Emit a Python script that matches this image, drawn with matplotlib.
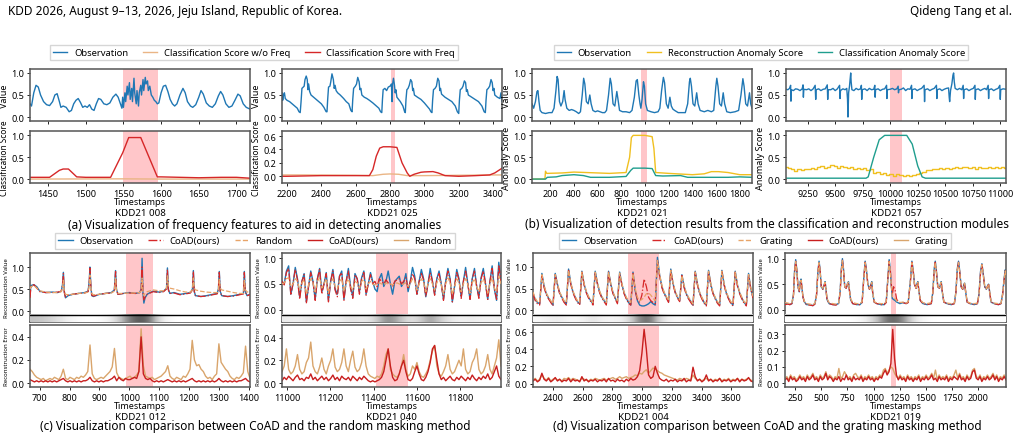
import numpy as np
import matplotlib
matplotlib.use("Agg")
import matplotlib.pyplot as plt
from matplotlib.lines import Line2D

plt.rcParams['font.family'] = ['Noto Sans', 'DejaVu Sans']

W, H = 1020, 439

BLUE = '#1f77b4'
RED = '#d62728'
TAN_LIGHT = '#eab585'
GOLD = '#f0c020'
TEAL = '#1f9e8e'
COAD = '#c81e1e'
RAND = '#d9a56c'
RAND_DASH = '#e8a468'
SPAN = '#ffb3b8'

# ---------------- (a) KDD21 008 ----------------
a1_span = (1549, 1596)
a1_obs = np.array([
    [1426, 0.30], [1428, 0.25], [1431, 0.55], [1434, 0.72], [1437, 0.68], [1440, 0.50],
    [1444, 0.35], [1448, 0.28], [1452, 0.26], [1456, 0.35], [1459, 0.50], [1462, 0.53],
    [1465, 0.35], [1467, 0.22], [1470, 0.25], [1474, 0.22], [1478, 0.12], [1481, 0.15],
    [1484, 0.30], [1487, 0.38], [1490, 0.42], [1493, 0.33], [1496, 0.22], [1499, 0.25],
    [1502, 0.22], [1505, 0.28], [1508, 0.18], [1511, 0.15], [1514, 0.30], [1517, 0.42],
    [1520, 0.40], [1524, 0.30], [1528, 0.28], [1532, 0.32], [1536, 0.45], [1540, 0.52],
    [1543, 0.45], [1546, 0.30], [1548, 0.20], [1549, 0.45], [1550, 0.22], [1552, 0.55],
    [1553, 0.35], [1555, 0.70], [1556, 0.50], [1558, 0.78], [1559, 0.40], [1561, 0.65],
    [1562, 0.35], [1564, 0.88], [1565, 0.55], [1567, 0.30], [1568, 0.60], [1570, 0.25],
    [1571, 0.55], [1573, 0.72], [1574, 0.50], [1576, 0.85], [1577, 0.60], [1579, 0.90],
    [1580, 0.75], [1582, 0.82], [1583, 0.60], [1585, 0.70], [1587, 0.50], [1589, 0.45],
    [1591, 0.38], [1593, 0.35], [1595, 0.30], [1597, 0.32], [1600, 0.55], [1603, 0.70],
    [1606, 0.72], [1609, 0.58], [1612, 0.40], [1615, 0.30], [1618, 0.25], [1621, 0.30],
    [1625, 0.50], [1629, 0.65], [1632, 0.55], [1635, 0.35], [1639, 0.25], [1642, 0.22],
    [1646, 0.28], [1650, 0.45], [1653, 0.60], [1656, 0.52], [1660, 0.32], [1664, 0.25],
    [1668, 0.22], [1672, 0.30], [1676, 0.48], [1679, 0.58], [1682, 0.50], [1686, 0.30],
    [1690, 0.22], [1694, 0.25], [1698, 0.38], [1702, 0.52], [1705, 0.48], [1709, 0.30],
    [1713, 0.22], [1718, 0.18]])
a1_with = np.array([
    [1426, 0.04], [1452, 0.04], [1465, 0.20], [1470, 0.23], [1477, 0.23], [1488, 0.05],
    [1500, 0.04], [1533, 0.04], [1549, 0.60], [1557, 0.95], [1573, 0.95], [1595, 0.05],
    [1600, 0.05], [1650, 0.03], [1680, 0.04], [1700, 0.04], [1718, 0.02]])
a1_without = np.array([[1426, 0.0], [1550, 0.005], [1600, 0.0], [1718, 0.0]])

# ---------------- (a) KDD21 025 ----------------
a2_span = (2805, 2830)
a2_obs = np.array([
    [2171, 0.55], [2175, 0.38], [2180, 0.50], [2185, 0.55], [2190, 0.42], [2200, 0.38],
    [2215, 0.35], [2230, 0.30], [2245, 0.25], [2260, 0.20], [2270, 0.12], [2277, 0.10],
    [2282, 0.35], [2287, 0.65], [2295, 0.68], [2300, 0.70], [2305, 0.85], [2312, 0.93],
    [2318, 0.85], [2322, 0.62], [2326, 0.75], [2332, 0.58], [2340, 0.50], [2355, 0.45],
    [2370, 0.40], [2385, 0.35], [2400, 0.30], [2415, 0.22], [2428, 0.12], [2433, 0.12],
    [2437, 0.40], [2442, 0.68], [2450, 0.70], [2455, 0.80], [2462, 0.98], [2470, 0.85],
    [2475, 0.65], [2480, 0.72], [2486, 0.60], [2495, 0.55], [2510, 0.50], [2530, 0.42],
    [2545, 0.35], [2560, 0.30], [2572, 0.15], [2579, 0.12], [2583, 0.40], [2588, 0.65],
    [2598, 0.70], [2605, 0.75], [2612, 0.90], [2620, 0.80], [2625, 0.62], [2630, 0.65],
    [2636, 0.50], [2650, 0.45], [2665, 0.42], [2680, 0.38], [2700, 0.32], [2720, 0.25],
    [2735, 0.20], [2745, 0.12], [2752, 0.10], [2756, 0.40], [2760, 0.62], [2770, 0.65],
    [2780, 0.60], [2790, 0.68], [2800, 0.70], [2808, 0.75], [2812, 0.35], [2815, 0.75],
    [2820, 0.88], [2826, 0.72], [2830, 0.55], [2834, 0.62], [2840, 0.45], [2860, 0.35],
    [2875, 0.25], [2885, 0.12], [2889, 0.10], [2893, 0.40], [2898, 0.62], [2905, 0.65],
    [2912, 0.72], [2920, 0.85], [2927, 0.80], [2932, 0.60], [2936, 0.65], [2942, 0.50],
    [2960, 0.45], [2980, 0.40], [3000, 0.32], [3015, 0.25], [3030, 0.18], [3038, 0.12],
    [3044, 0.10], [3048, 0.38], [3053, 0.62], [3062, 0.65], [3070, 0.70], [3078, 0.88],
    [3085, 0.82], [3090, 0.60], [3094, 0.65], [3100, 0.52], [3120, 0.45], [3140, 0.40],
    [3160, 0.35], [3180, 0.25], [3192, 0.12], [3200, 0.08], [3204, 0.38], [3209, 0.62],
    [3218, 0.65], [3225, 0.70], [3233, 0.82], [3240, 0.78], [3245, 0.58], [3250, 0.62],
    [3256, 0.50], [3275, 0.45], [3295, 0.40], [3315, 0.35], [3335, 0.25], [3348, 0.12],
    [3355, 0.10], [3359, 0.38], [3364, 0.62], [3372, 0.65], [3380, 0.70], [3388, 0.85],
    [3395, 0.78], [3400, 0.60], [3405, 0.65], [3410, 0.50], [3425, 0.45], [3440, 0.42],
    [3446, 0.55], [3452, 0.35]])
a2_with = np.array([
    [2171, 0.0], [2200, 0.0], [2400, 0.01], [2600, 0.01], [2680, 0.01], [2700, 0.10],
    [2720, 0.30], [2740, 0.42], [2760, 0.44], [2800, 0.44], [2840, 0.43], [2870, 0.20],
    [2900, 0.05], [2915, 0.0], [2940, 0.03], [2980, 0.06], [3000, 0.065], [3050, 0.07],
    [3080, 0.05], [3120, 0.01], [3200, 0.0], [3300, 0.01], [3380, 0.02], [3410, 0.05],
    [3440, 0.10], [3452, 0.12]])
a2_without = np.array([
    [2171, 0.02], [2300, 0.02], [2600, 0.015], [2700, 0.01], [2760, 0.03], [2800, 0.035],
    [2850, 0.03], [2900, 0.01], [3000, 0.01], [3200, 0.015], [3400, 0.02], [3452, 0.02]])

# ---------------- (b) KDD21 021 ----------------
b1_span = (968, 1016)
b1_obs = np.array([
    [46, 0.30], [60, 0.20], [75, 0.35], [88, 0.58], [96, 0.60], [105, 0.35], [115, 0.15],
    [130, 0.10], [160, 0.08], [190, 0.10], [215, 0.10], [232, 0.20], [248, 0.60], [258, 0.92],
    [266, 0.85], [278, 0.35], [290, 0.25], [305, 0.35], [317, 0.60], [325, 0.40], [340, 0.20],
    [360, 0.15], [380, 0.17], [400, 0.15], [420, 0.12], [440, 0.08], [455, 0.12], [470, 0.50],
    [482, 0.88], [492, 0.75], [505, 0.35], [520, 0.30], [534, 0.50], [545, 0.30], [560, 0.15],
    [580, 0.12], [600, 0.14], [620, 0.12], [640, 0.10], [660, 0.10], [675, 0.15], [692, 0.50],
    [706, 0.88], [716, 0.75], [730, 0.30], [745, 0.25], [762, 0.58], [772, 0.40], [785, 0.15],
    [810, 0.12], [840, 0.12], [870, 0.10], [890, 0.15], [910, 0.45], [925, 0.82], [935, 0.85],
    [948, 0.50], [958, 0.30], [965, 0.20], [975, 0.40], [987, 0.80], [995, 0.70], [1005, 0.30],
    [1020, 0.15], [1050, 0.12], [1080, 0.10], [1110, 0.12], [1125, 0.20], [1140, 0.60],
    [1155, 0.90], [1165, 0.78], [1180, 0.30], [1195, 0.20], [1210, 0.45], [1222, 0.25],
    [1235, 0.18], [1250, 0.15], [1280, 0.10], [1310, 0.10], [1340, 0.10], [1360, 0.30],
    [1375, 0.80], [1382, 0.88], [1392, 0.70], [1405, 0.30], [1420, 0.25], [1436, 0.55],
    [1448, 0.30], [1465, 0.15], [1500, 0.12], [1530, 0.15], [1560, 0.12], [1580, 0.15],
    [1598, 0.70], [1606, 0.88], [1616, 0.70], [1630, 0.30], [1645, 0.25], [1660, 0.55],
    [1672, 0.30], [1690, 0.12], [1720, 0.10], [1760, 0.12], [1790, 0.15], [1810, 0.50],
    [1826, 0.87], [1836, 0.70], [1850, 0.30], [1865, 0.25], [1882, 0.55], [1892, 0.30],
    [1903, 0.20]])
b1_recon = np.array([
    [46, 0.0], [155, 0.0], [160, 0.18], [170, 0.13], [300, 0.14], [400, 0.16], [500, 0.15],
    [700, 0.13], [840, 0.15], [870, 0.50], [885, 0.95], [900, 1.0], [1000, 1.0], [1060, 0.97],
    [1075, 0.70], [1090, 0.15], [1200, 0.13], [1400, 0.10], [1500, 0.12], [1560, 0.17],
    [1620, 0.17], [1700, 0.15], [1800, 0.10], [1903, 0.10]])
b1_cls = np.array([
    [46, 0.0], [160, 0.0], [175, 0.04], [250, 0.05], [300, 0.08], [400, 0.10], [480, 0.08],
    [540, 0.04], [700, 0.04], [840, 0.06], [880, 0.20], [900, 0.25], [1000, 0.25],
    [1060, 0.24], [1090, 0.08], [1150, 0.07], [1300, 0.08], [1360, 0.04], [1500, 0.04],
    [1700, 0.04], [1800, 0.05], [1903, 0.04]])

# ---------------- (b) KDD21 057 ----------------
b2_span = (10000, 10106)
b2_obs = np.array([
    [9053, 0.63], [9070, 0.62], [9085, 0.65], [9095, 0.72], [9098, 0.36], [9102, 0.62],
    [9120, 0.60], [9140, 0.64], [9160, 0.63], [9180, 0.60], [9200, 0.64], [9208, 0.73],
    [9211, 0.45], [9215, 0.63], [9240, 0.62], [9260, 0.64], [9280, 0.60], [9300, 0.64],
    [9318, 0.72], [9323, 0.40], [9327, 0.62], [9350, 0.64], [9370, 0.60], [9390, 0.63],
    [9410, 0.64], [9428, 0.73], [9432, 0.40], [9436, 0.62], [9460, 0.62], [9480, 0.65],
    [9500, 0.60], [9520, 0.64], [9540, 0.72], [9544, 0.42], [9548, 0.60], [9570, 0.64],
    [9590, 0.62], [9605, 0.65], [9612, 0.40], [9616, 0.0], [9622, 0.55], [9630, 0.70],
    [9638, 0.90], [9641, 1.0], [9645, 0.80], [9652, 0.62], [9670, 0.60], [9690, 0.65],
    [9710, 0.62], [9730, 0.64], [9738, 0.72], [9741, 0.40], [9745, 0.62], [9770, 0.64],
    [9790, 0.60], [9810, 0.65], [9830, 0.62], [9850, 0.63], [9860, 0.72], [9863, 0.45],
    [9867, 0.62], [9890, 0.64], [9910, 0.60], [9930, 0.63], [9950, 0.64], [9967, 0.72],
    [9970, 0.42], [9974, 0.62], [10000, 0.63], [10020, 0.65], [10040, 0.62], [10060, 0.64],
    [10072, 0.70], [10075, 0.55], [10079, 0.62], [10100, 0.63], [10120, 0.66], [10140, 0.60],
    [10160, 0.64], [10180, 0.63], [10194, 0.72], [10197, 0.42], [10201, 0.62], [10225, 0.64],
    [10245, 0.60], [10265, 0.63], [10285, 0.65], [10308, 0.72], [10312, 0.35], [10316, 0.62],
    [10340, 0.64], [10360, 0.60], [10380, 0.63], [10400, 0.65], [10420, 0.72], [10424, 0.42],
    [10428, 0.62], [10450, 0.64], [10470, 0.60], [10490, 0.63], [10510, 0.65], [10530, 0.66],
    [10536, 0.45], [10540, 0.35], [10548, 0.60], [10560, 0.75], [10570, 0.95], [10576, 1.0],
    [10582, 0.80], [10590, 0.65], [10610, 0.62], [10630, 0.65], [10650, 0.62], [10663, 0.72],
    [10667, 0.42], [10671, 0.62], [10695, 0.64], [10715, 0.60], [10735, 0.63], [10755, 0.65],
    [10770, 0.72], [10773, 0.40], [10777, 0.62], [10800, 0.64], [10820, 0.60], [10840, 0.63],
    [10860, 0.65], [10875, 0.62], [10890, 0.72], [10894, 0.42], [10898, 0.62], [10920, 0.64],
    [10940, 0.60], [10960, 0.63], [10980, 0.65], [10996, 0.72], [11000, 0.40], [11004, 0.62],
    [11025, 0.64], [11052, 0.63]])
b2_cls = np.array([
    [9053, 0.02], [9780, 0.02], [9800, 0.05], [9850, 0.50], [9900, 0.90], [9950, 1.0],
    [10150, 1.0], [10200, 0.80], [10250, 0.30], [10290, 0.05], [10320, 0.02], [11052, 0.02]])
b2_recon_x0, b2_recon_x1 = 9053, 11052
b2_recon = [0.28, 0.25, 0.22, 0.18, 0.22, 0.20, 0.24, 0.22, 0.26, 0.23,
            0.27, 0.30, 0.25, 0.28, 0.32, 0.30, 0.26, 0.30, 0.28, 0.26,
            0.27, 0.24, 0.26, 0.22, 0.25, 0.20, 0.22, 0.15, 0.16, 0.12,
            0.14, 0.10, 0.12, 0.08, 0.12, 0.10, 0.06, 0.10, 0.08, 0.10,
            0.12, 0.14, 0.17, 0.20, 0.20, 0.24, 0.22, 0.25, 0.22, 0.26,
            0.24, 0.26, 0.28, 0.25, 0.27, 0.28, 0.25, 0.27, 0.24, 0.28,
            0.26, 0.25, 0.27, 0.25, 0.28, 0.25, 0.27, 0.26]

# ---------------- (c) KDD21 012 ----------------
c1_span = (988, 1080)
c1_x = [667, 670, 680, 690, 700, 720, 740, 760, 772, 776, 779, 782, 786, 795, 810, 830, 850,
        862, 866, 868, 871, 874, 880, 900, 920, 940, 950, 954, 957, 962, 980, 1000, 1020,
        1035, 1040, 1043, 1046, 1049, 1053, 1060, 1070, 1080, 1100, 1115, 1125, 1128, 1131,
        1136, 1150, 1170, 1190, 1205, 1212, 1215, 1218, 1222, 1240, 1260, 1280, 1295, 1299,
        1302, 1305, 1310, 1330, 1350, 1370, 1383, 1386, 1389, 1395, 1405]
c1_obs = [0.35, 0.58, 0.60, 0.55, 0.45, 0.42, 0.43, 0.42, 0.45, 0.60,
          0.88, 0.45, 0.30, 0.35, 0.38, 0.40, 0.42, 0.45, 0.70, 1.00,
          0.60, 0.35, 0.33, 0.38, 0.40, 0.42, 0.48, 0.92, 0.50, 0.38,
          0.40, 0.42, 0.40, 0.42, 0.50, 1.20, 0.40, 0.18, 0.30, 0.38,
          0.42, 0.45, 0.43, 0.45, 0.52, 0.98, 0.50, 0.40, 0.42, 0.38,
          0.40, 0.42, 0.50, 0.92, 0.45, 0.35, 0.33, 0.35, 0.38, 0.40,
          0.50, 0.90, 0.45, 0.35, 0.33, 0.35, 0.38, 0.40, 0.90, 0.45,
          0.35, 0.38]
c1_coad = [0.30, 0.55, 0.60, 0.52, 0.44, 0.42, 0.42, 0.43, 0.45, 0.58,
           0.85, 0.42, 0.32, 0.36, 0.38, 0.40, 0.41, 0.44, 0.68, 0.98,
           0.58, 0.36, 0.34, 0.38, 0.40, 0.41, 0.47, 0.90, 0.48, 0.38,
           0.40, 0.41, 0.40, 0.42, 0.48, 1.00, 0.42, 0.25, 0.32, 0.38,
           0.41, 0.44, 0.42, 0.44, 0.50, 0.95, 0.48, 0.40, 0.41, 0.37,
           0.39, 0.41, 0.48, 0.90, 0.44, 0.35, 0.33, 0.34, 0.37, 0.39,
           0.48, 0.88, 0.44, 0.35, 0.33, 0.34, 0.37, 0.39, 0.88, 0.44,
           0.35, 0.37]
c1_rand = [0.50, 0.55, 0.58, 0.52, 0.46, 0.43, 0.42, 0.42, 0.44, 0.52,
           0.70, 0.45, 0.38, 0.37, 0.38, 0.40, 0.41, 0.43, 0.58, 0.82,
           0.55, 0.40, 0.37, 0.38, 0.40, 0.41, 0.45, 0.75, 0.48, 0.40,
           0.40, 0.41, 0.41, 0.42, 0.46, 0.75, 0.45, 0.35, 0.40, 0.44,
           0.46, 0.48, 0.46, 0.46, 0.52, 0.80, 0.58, 0.52, 0.50, 0.46,
           0.43, 0.43, 0.48, 0.75, 0.52, 0.48, 0.45, 0.43, 0.42, 0.42,
           0.48, 0.72, 0.52, 0.48, 0.45, 0.42, 0.40, 0.40, 0.70, 0.48,
           0.44, 0.40]
c1_strip = [0.35, 0.28, 0.15, 0.03, 0.0, 0.05, 0.30, 0.70, 0.75, 0.15, 0.0, 0.0, 0.0, 0.0, 0.0, 0.0]
c1_err_rand = [0.12, 0.10, 0.07, 0.05, 0.04, 0.03, 0.04, 0.02, 0.03, 0.04,
               0.03, 0.05, 0.04, 0.03, 0.06, 0.12, 0.04, 0.03, 0.05, 0.04,
               0.03, 0.05, 0.04, 0.06, 0.05, 0.07, 0.10, 0.33, 0.08, 0.04,
               0.03, 0.04, 0.05, 0.04, 0.06, 0.08, 0.10, 0.14, 0.30, 0.09,
               0.05, 0.04, 0.03, 0.04, 0.05, 0.06, 0.04, 0.05, 0.07, 0.10,
               0.47, 0.15, 0.06, 0.05, 0.04, 0.05, 0.03, 0.04, 0.05, 0.06,
               0.08, 0.10, 0.15, 0.06, 0.04, 0.03, 0.05, 0.04, 0.03, 0.06,
               0.05, 0.08, 0.12, 0.37, 0.20, 0.15, 0.16, 0.12, 0.10, 0.06,
               0.04, 0.05, 0.03, 0.06, 0.08, 0.34, 0.18, 0.15, 0.12, 0.10,
               0.06, 0.04, 0.03, 0.05, 0.04, 0.06, 0.09, 0.32, 0.10, 0.04]
c1_err_coad = [0.03, 0.02, 0.01, 0.02, 0.01, 0.02, 0.01, 0.02, 0.01, 0.02,
               0.01, 0.02, 0.01, 0.02, 0.03, 0.04, 0.02, 0.01, 0.02, 0.01,
               0.02, 0.01, 0.02, 0.01, 0.02, 0.02, 0.03, 0.05, 0.02, 0.01,
               0.02, 0.01, 0.02, 0.01, 0.02, 0.02, 0.03, 0.04, 0.06, 0.02,
               0.05, 0.03, 0.02, 0.04, 0.03, 0.03, 0.04, 0.05, 0.04, 0.10,
               0.40, 0.08, 0.04, 0.03, 0.04, 0.02, 0.01, 0.02, 0.01, 0.02,
               0.01, 0.02, 0.03, 0.02, 0.01, 0.02, 0.01, 0.02, 0.01, 0.02,
               0.01, 0.02, 0.03, 0.04, 0.02, 0.01, 0.02, 0.01, 0.02, 0.01,
               0.02, 0.01, 0.02, 0.01, 0.02, 0.04, 0.02, 0.01, 0.02, 0.01,
               0.02, 0.01, 0.02, 0.01, 0.02, 0.02, 0.03, 0.04, 0.02, 0.01]

# ---------------- (c) KDD21 040 ----------------
c2_span = (11412, 11558)
c2_obs = [0.55, 0.50, 0.75, 0.85, 0.30, 0.50, 0.82, 0.60, 0.25, 0.55,
          0.70, 0.15, 0.45, 0.75, 0.55, 0.20, 0.60, 0.80, 0.35, 0.50,
          0.72, 0.18, 0.55, 0.78, 0.40, 0.30, 0.65, 0.75, 0.20, 0.55,
          0.80, 0.45, 0.25, 0.70, 0.60, 0.35, 0.62, 0.75, 0.30, 0.50,
          0.72, 0.55, 0.40, 0.35, 0.60, 0.70, 0.45, 0.55, 0.75, 0.50,
          0.30, 0.55, 0.60, 0.65, 0.45, 0.52, 0.70, 0.35, 0.55, 0.82,
          0.65, 0.30, 0.55, 0.78, 0.60, 0.25, 0.50, 0.80, 0.55, 0.30,
          0.60, 0.75, 0.50, 0.20, 0.55, 0.80, 0.60, 0.15, 0.45, 0.78,
          0.60, 0.25, 0.55, 0.82, 0.50, 0.20, 0.60, 0.80, 0.45, 0.25,
          0.62, 0.80, 0.50, 0.20, 0.55, 0.85, 0.40, 0.18, 0.92, 0.55]
c2_coad = [0.55, 0.48, 0.72, 0.80, 0.28, 0.52, 0.78, 0.58, 0.20, 0.55,
           0.68, 0.12, 0.45, 0.72, 0.55, 0.18, 0.60, 0.78, 0.30, 0.50,
           0.70, 0.15, 0.55, 0.75, 0.38, 0.25, 0.65, 0.72, 0.18, 0.55,
           0.75, 0.40, 0.22, 0.68, 0.60, 0.30, 0.60, 0.72, 0.28, 0.50,
           0.68, 0.50, 0.55, 0.45, 0.60, 0.55, 0.50, 0.58, 0.52, 0.50,
           0.45, 0.55, 0.58, 0.60, 0.50, 0.55, 0.62, 0.40, 0.55, 0.70,
           0.60, 0.30, 0.55, 0.70, 0.58, 0.25, 0.50, 0.72, 0.55, 0.28,
           0.60, 0.70, 0.50, 0.18, 0.55, 0.75, 0.58, 0.15, 0.45, 0.72,
           0.58, 0.22, 0.55, 0.75, 0.50, 0.20, 0.60, 0.75, 0.45, 0.22,
           0.60, 0.75, 0.50, 0.20, 0.55, 0.80, 0.40, 0.20, 0.85, 0.55]
c2_rand = [0.50, 0.52, 0.60, 0.62, 0.45, 0.50, 0.60, 0.55, 0.38, 0.52,
           0.58, 0.30, 0.48, 0.60, 0.52, 0.35, 0.55, 0.62, 0.42, 0.50,
           0.60, 0.32, 0.52, 0.60, 0.45, 0.40, 0.55, 0.60, 0.35, 0.52,
           0.60, 0.45, 0.38, 0.55, 0.52, 0.42, 0.55, 0.58, 0.40, 0.50,
           0.55, 0.50, 0.48, 0.50, 0.52, 0.50, 0.48, 0.52, 0.50, 0.50,
           0.48, 0.50, 0.52, 0.50, 0.48, 0.50, 0.52, 0.45, 0.50, 0.60,
           0.55, 0.38, 0.50, 0.60, 0.52, 0.35, 0.50, 0.60, 0.50, 0.38,
           0.52, 0.60, 0.48, 0.30, 0.50, 0.62, 0.52, 0.30, 0.45, 0.60,
           0.52, 0.35, 0.50, 0.60, 0.48, 0.32, 0.52, 0.60, 0.45, 0.35,
           0.52, 0.60, 0.48, 0.32, 0.50, 0.62, 0.42, 0.35, 0.65, 0.50]
c2_strip = [0.15, 0.12, 0.18, 0.15, 0.10, 0.15, 0.20, 0.15, 0.25, 0.55,
            0.45, 0.20, 0.25, 0.50, 0.30, 0.15, 0.12, 0.15, 0.10, 0.12]
c2_err_rand = [0.10, 0.15, 0.30, 0.12, 0.08, 0.10, 0.15, 0.25, 0.12, 0.08,
               0.10, 0.18, 0.22, 0.36, 0.15, 0.10, 0.08, 0.14, 0.22, 0.12,
               0.08, 0.15, 0.20, 0.30, 0.14, 0.10, 0.12, 0.18, 0.30, 0.15,
               0.10, 0.20, 0.28, 0.14, 0.10, 0.12, 0.18, 0.30, 0.15, 0.08,
               0.06, 0.05, 0.04, 0.06, 0.05, 0.08, 0.15, 0.25, 0.30, 0.12,
               0.08, 0.06, 0.05, 0.08, 0.15, 0.25, 0.12, 0.06, 0.08, 0.15,
               0.12, 0.18, 0.10, 0.06, 0.05, 0.08, 0.12, 0.20, 0.28, 0.33,
               0.15, 0.08, 0.06, 0.10, 0.15, 0.25, 0.12, 0.08, 0.10, 0.15,
               0.20, 0.15, 0.30, 0.12, 0.08, 0.10, 0.18, 0.22, 0.30, 0.12,
               0.08, 0.10, 0.15, 0.25, 0.12, 0.08, 0.15, 0.22, 0.38, 0.15]
c2_err_coad = [0.02, 0.05, 0.03, 0.06, 0.04, 0.02, 0.05, 0.07, 0.03, 0.04,
               0.02, 0.05, 0.04, 0.08, 0.03, 0.05, 0.02, 0.04, 0.06, 0.03,
               0.05, 0.02, 0.04, 0.07, 0.03, 0.05, 0.02, 0.06, 0.04, 0.03,
               0.05, 0.02, 0.06, 0.04, 0.02, 0.05, 0.03, 0.06, 0.04, 0.02,
               0.01, 0.02, 0.01, 0.02, 0.03, 0.05, 0.10, 0.20, 0.30, 0.15,
               0.05, 0.02, 0.03, 0.08, 0.15, 0.20, 0.10, 0.03, 0.02, 0.04,
               0.10, 0.15, 0.08, 0.03, 0.02, 0.05, 0.10, 0.18, 0.30, 0.33,
               0.20, 0.08, 0.03, 0.05, 0.02, 0.04, 0.06, 0.03, 0.02, 0.05,
               0.03, 0.06, 0.04, 0.02, 0.05, 0.03, 0.07, 0.04, 0.02, 0.05,
               0.03, 0.06, 0.04, 0.08, 0.03, 0.05, 0.10, 0.15, 0.06, 0.03]

# ---------------- (d) KDD21 004 ----------------
d1_span = (2904, 3112)
d1_obs = [0.40, 0.25, 0.18, 0.15, 0.85, 0.55, 0.38, 0.28, 0.20, 0.12,
          0.85, 0.60, 0.40, 0.30, 0.20, 0.15, 0.95, 0.62, 0.42, 0.30,
          0.20, 0.15, 0.90, 0.60, 0.42, 0.30, 0.22, 0.15, 0.90, 0.62,
          0.42, 0.30, 0.22, 0.15, 0.90, 0.60, 0.40, 0.28, 0.18, 0.88,
          0.60, 0.40, 0.28, 0.18, 0.12, 0.88, 0.45, 0.22, 0.12, 0.10,
          0.10, 0.12, 0.15, 0.20, 0.15, 0.12, 1.22, 0.80, 0.55, 0.40,
          0.30, 0.20, 0.95, 0.62, 0.42, 0.30, 0.22, 0.82, 0.55, 0.38,
          0.28, 0.20, 0.12, 0.90, 0.60, 0.40, 0.28, 0.18, 0.12, 0.92,
          0.60, 0.40, 0.28, 0.18, 0.12, 0.92, 0.60, 0.40, 0.28, 0.18,
          0.12, 0.90, 0.58, 0.40, 0.28, 0.18, 0.12, 0.85, 0.50, 0.30]
d1_coad = [0.38, 0.22, 0.15, 0.12, 0.80, 0.52, 0.36, 0.26, 0.18, 0.10,
           0.82, 0.58, 0.38, 0.28, 0.18, 0.12, 0.92, 0.60, 0.40, 0.28,
           0.18, 0.12, 0.88, 0.58, 0.40, 0.28, 0.20, 0.12, 0.88, 0.60,
           0.40, 0.28, 0.20, 0.12, 0.88, 0.58, 0.38, 0.26, 0.15, 0.85,
           0.58, 0.38, 0.26, 0.16, 0.12, 0.85, 0.45, 0.25, 0.18, 0.35,
           0.72, 0.55, 0.30, 0.22, 0.18, 0.15, 1.15, 0.78, 0.52, 0.38,
           0.28, 0.18, 0.92, 0.60, 0.40, 0.28, 0.20, 0.80, 0.52, 0.36,
           0.26, 0.18, 0.10, 0.88, 0.58, 0.38, 0.26, 0.16, 0.10, 0.90,
           0.58, 0.38, 0.26, 0.16, 0.10, 0.90, 0.58, 0.38, 0.26, 0.16,
           0.10, 0.88, 0.56, 0.38, 0.26, 0.16, 0.10, 0.82, 0.48, 0.28]
d1_grat = [0.42, 0.28, 0.20, 0.18, 0.82, 0.58, 0.40, 0.30, 0.22, 0.15,
           0.82, 0.62, 0.42, 0.32, 0.22, 0.18, 0.92, 0.64, 0.44, 0.32,
           0.22, 0.18, 0.88, 0.62, 0.44, 0.32, 0.24, 0.18, 0.88, 0.64,
           0.44, 0.32, 0.24, 0.18, 0.88, 0.62, 0.42, 0.30, 0.22, 0.86,
           0.62, 0.42, 0.30, 0.22, 0.18, 0.85, 0.50, 0.30, 0.22, 0.25,
           0.30, 0.38, 0.40, 0.35, 0.28, 0.22, 1.15, 0.82, 0.58, 0.42,
           0.32, 0.22, 0.92, 0.64, 0.44, 0.32, 0.24, 0.80, 0.58, 0.40,
           0.30, 0.22, 0.15, 0.88, 0.62, 0.42, 0.30, 0.20, 0.15, 0.90,
           0.62, 0.42, 0.30, 0.20, 0.15, 0.90, 0.62, 0.42, 0.30, 0.20,
           0.15, 0.88, 0.60, 0.42, 0.30, 0.20, 0.15, 0.82, 0.52, 0.32]
d1_strip = [0.05, 0.12, 0.15, 0.05, 0.10, 0.20, 0.08, 0.10, 0.15, 0.50,
            0.70, 0.25, 0.08, 0.05, 0.12, 0.15, 0.05, 0.08, 0.05, 0.05]
d1_err_coad = [0.03, 0.05, 0.02, 0.04, 0.12, 0.05, 0.03, 0.06, 0.02, 0.04,
               0.07, 0.03, 0.05, 0.02, 0.04, 0.03, 0.06, 0.02, 0.05, 0.03,
               0.04, 0.02, 0.08, 0.03, 0.05, 0.02, 0.04, 0.03, 0.05, 0.02,
               0.04, 0.03, 0.05, 0.02, 0.06, 0.03, 0.04, 0.02, 0.05, 0.03,
               0.04, 0.02, 0.05, 0.03, 0.06, 0.04, 0.05, 0.08, 0.15, 0.35,
               0.63, 0.40, 0.10, 0.06, 0.08, 0.20, 0.12, 0.06, 0.04, 0.03,
               0.05, 0.02, 0.04, 0.03, 0.05, 0.02, 0.04, 0.03, 0.06, 0.02,
               0.04, 0.03, 0.19, 0.08, 0.03, 0.05, 0.02, 0.04, 0.10, 0.03,
               0.05, 0.02, 0.04, 0.03, 0.06, 0.02, 0.04, 0.03, 0.05, 0.02,
               0.04, 0.03, 0.06, 0.02, 0.05, 0.03, 0.04, 0.07, 0.03, 0.02]
d1_err_grat = [0.04, 0.06, 0.03, 0.05, 0.10, 0.06, 0.04, 0.07, 0.03, 0.05,
               0.06, 0.04, 0.05, 0.03, 0.06, 0.05, 0.07, 0.04, 0.06, 0.05,
               0.04, 0.03, 0.06, 0.05, 0.04, 0.03, 0.05, 0.04, 0.06, 0.05,
               0.04, 0.05, 0.06, 0.04, 0.05, 0.06, 0.07, 0.05, 0.06, 0.08,
               0.06, 0.07, 0.08, 0.06, 0.07, 0.08, 0.10, 0.09, 0.12, 0.11,
               0.14, 0.16, 0.12, 0.15, 0.18, 0.17, 0.15, 0.13, 0.12, 0.10,
               0.09, 0.08, 0.07, 0.06, 0.05, 0.04, 0.06, 0.05, 0.04, 0.06,
               0.05, 0.04, 0.10, 0.06, 0.04, 0.05, 0.03, 0.05, 0.06, 0.04,
               0.05, 0.03, 0.05, 0.04, 0.06, 0.03, 0.05, 0.04, 0.06, 0.03,
               0.05, 0.04, 0.06, 0.03, 0.05, 0.04, 0.05, 0.06, 0.04, 0.03]

# ---------------- (d) KDD21 019 ----------------
d2_span = (1170, 1215)
d2_x = [154, 180, 200, 220, 235, 245, 256, 266, 278, 290,
        300, 307, 315, 325, 340, 360, 390, 420, 440, 455,
        468, 479, 489, 500, 515, 530, 537, 545, 555, 575,
        610, 640, 665, 680, 692, 702, 712, 724, 738, 752,
        760, 768, 780, 800, 840, 870, 890, 905, 919, 930,
        945, 960, 975, 982, 990, 1005, 1030, 1070, 1100, 1120,
        1135, 1148, 1158, 1168, 1178, 1190, 1205, 1220, 1250, 1280,
        1310, 1330, 1350, 1365, 1376, 1390, 1405, 1415, 1422, 1430,
        1445, 1470, 1510, 1550, 1565, 1578, 1588, 1598, 1612, 1628,
        1640, 1645, 1655, 1670, 1700, 1740, 1770, 1785, 1798, 1810,
        1820, 1835, 1850, 1862, 1868, 1878, 1892, 1920, 1960, 1990,
        2005, 2020, 2033, 2045, 2060, 2075, 2090, 2097, 2107, 2120,
        2150, 2190, 2215, 2230, 2245, 2255, 2263]
d2_obs = [0.12, 0.12, 0.10, 0.12, 0.30, 0.75, 0.98, 0.80, 0.45, 0.35,
          0.55, 0.60, 0.45, 0.25, 0.15, 0.10, 0.10, 0.08, 0.12, 0.30,
          0.75, 0.95, 0.78, 0.45, 0.40, 0.50, 0.55, 0.40, 0.20, 0.12,
          0.10, 0.10, 0.12, 0.35, 0.80, 1.00, 0.80, 0.45, 0.42, 0.52,
          0.55, 0.40, 0.20, 0.12, 0.10, 0.10, 0.15, 0.60, 0.95, 0.80,
          0.50, 0.40, 0.50, 0.55, 0.35, 0.15, 0.12, 0.10, 0.10, 0.15,
          0.60, 0.98, 0.80, 0.50, 0.22, 0.20, 0.18, 0.15, 0.12, 0.14,
          0.12, 0.15, 0.55, 0.95, 0.80, 0.50, 0.42, 0.52, 0.55, 0.40,
          0.18, 0.12, 0.10, 0.12, 0.35, 0.80, 0.95, 0.78, 0.45, 0.42,
          0.52, 0.55, 0.35, 0.15, 0.12, 0.10, 0.12, 0.35, 0.80, 0.95,
          0.78, 0.45, 0.40, 0.50, 0.52, 0.35, 0.15, 0.12, 0.10, 0.12,
          0.30, 0.75, 0.90, 0.72, 0.45, 0.40, 0.48, 0.50, 0.35, 0.15,
          0.12, 0.10, 0.12, 0.30, 0.60, 0.78, 0.70]
d2_coad = [0.10, 0.11, 0.10, 0.12, 0.28, 0.72, 0.95, 0.78, 0.44, 0.36,
           0.54, 0.58, 0.44, 0.25, 0.14, 0.10, 0.09, 0.08, 0.11, 0.28,
           0.72, 0.93, 0.76, 0.45, 0.40, 0.49, 0.53, 0.39, 0.20, 0.12,
           0.10, 0.09, 0.12, 0.33, 0.78, 0.97, 0.78, 0.45, 0.42, 0.51,
           0.53, 0.39, 0.20, 0.12, 0.10, 0.10, 0.14, 0.58, 0.93, 0.78,
           0.49, 0.40, 0.49, 0.53, 0.35, 0.15, 0.12, 0.10, 0.10, 0.14,
           0.58, 0.95, 0.78, 0.48, 0.30, 0.45, 0.38, 0.20, 0.14, 0.14,
           0.12, 0.14, 0.53, 0.93, 0.78, 0.49, 0.42, 0.51, 0.53, 0.39,
           0.18, 0.12, 0.10, 0.12, 0.33, 0.78, 0.93, 0.76, 0.45, 0.42,
           0.51, 0.53, 0.35, 0.15, 0.12, 0.10, 0.12, 0.33, 0.78, 0.93,
           0.76, 0.45, 0.40, 0.49, 0.51, 0.35, 0.15, 0.12, 0.10, 0.12,
           0.28, 0.72, 0.88, 0.70, 0.45, 0.40, 0.47, 0.49, 0.35, 0.15,
           0.12, 0.10, 0.12, 0.28, 0.58, 0.76, 0.68]
d2_grat = [0.14, 0.13, 0.12, 0.14, 0.30, 0.72, 0.94, 0.78, 0.46, 0.38,
           0.55, 0.58, 0.45, 0.27, 0.16, 0.12, 0.11, 0.10, 0.13, 0.30,
           0.72, 0.92, 0.76, 0.46, 0.42, 0.50, 0.54, 0.40, 0.22, 0.14,
           0.12, 0.11, 0.13, 0.34, 0.78, 0.96, 0.78, 0.46, 0.43, 0.52,
           0.54, 0.40, 0.22, 0.14, 0.12, 0.12, 0.16, 0.58, 0.92, 0.78,
           0.50, 0.41, 0.50, 0.54, 0.36, 0.16, 0.13, 0.12, 0.12, 0.16,
           0.58, 0.94, 0.78, 0.50, 0.26, 0.24, 0.22, 0.17, 0.14, 0.15,
           0.13, 0.16, 0.54, 0.92, 0.78, 0.50, 0.43, 0.52, 0.54, 0.40,
           0.20, 0.14, 0.12, 0.14, 0.34, 0.78, 0.92, 0.76, 0.46, 0.43,
           0.52, 0.54, 0.36, 0.16, 0.13, 0.12, 0.13, 0.34, 0.78, 0.92,
           0.76, 0.46, 0.41, 0.50, 0.52, 0.36, 0.16, 0.13, 0.12, 0.13,
           0.30, 0.72, 0.88, 0.70, 0.46, 0.41, 0.48, 0.50, 0.36, 0.16,
           0.13, 0.12, 0.13, 0.30, 0.58, 0.76, 0.68]
d2_strip = [0.0, 0.0, 0.0, 0.0, 0.0, 0.0, 0.02, 0.15, 0.40, 0.70,
            0.60, 0.25, 0.05, 0.0, 0.0, 0.0, 0.0, 0.0, 0.0, 0.0]
d2_err_coad = [0.02, 0.03, 0.01, 0.04, 0.02, 0.03, 0.01, 0.02, 0.04, 0.02,
               0.03, 0.01, 0.04, 0.02, 0.03, 0.05, 0.02, 0.03, 0.01, 0.04,
               0.02, 0.03, 0.06, 0.02, 0.04, 0.03, 0.01, 0.03, 0.02, 0.04,
               0.01, 0.03, 0.02, 0.05, 0.02, 0.03, 0.01, 0.04, 0.02, 0.03,
               0.02, 0.04, 0.01, 0.03, 0.02, 0.04, 0.02, 0.03, 0.01, 0.03,
               0.02, 0.04, 0.03, 0.06, 0.08, 0.05, 0.07, 0.12, 0.33, 0.15,
               0.05, 0.02, 0.04, 0.02, 0.03, 0.01, 0.04, 0.02, 0.03, 0.01,
               0.03, 0.02, 0.04, 0.01, 0.03, 0.02, 0.04, 0.02, 0.03, 0.05,
               0.02, 0.03, 0.01, 0.04, 0.02, 0.03, 0.02, 0.04, 0.01, 0.03,
               0.02, 0.04, 0.03, 0.02, 0.05, 0.02, 0.03, 0.01, 0.04, 0.02,
               0.03, 0.07, 0.08, 0.03, 0.02, 0.04, 0.01, 0.03, 0.02, 0.04,
               0.02, 0.03, 0.05, 0.02, 0.04, 0.01, 0.03, 0.02, 0.04, 0.02]
d2_err_grat = [0.03, 0.04, 0.02, 0.05, 0.03, 0.04, 0.02, 0.03, 0.05, 0.03,
               0.04, 0.02, 0.05, 0.03, 0.04, 0.06, 0.03, 0.04, 0.02, 0.05,
               0.03, 0.04, 0.07, 0.03, 0.05, 0.04, 0.02, 0.04, 0.03, 0.09,
               0.03, 0.04, 0.07, 0.05, 0.03, 0.04, 0.02, 0.05, 0.06, 0.04,
               0.03, 0.05, 0.02, 0.04, 0.03, 0.05, 0.03, 0.04, 0.02, 0.04,
               0.03, 0.05, 0.04, 0.08, 0.09, 0.06, 0.08, 0.10, 0.09, 0.06,
               0.04, 0.03, 0.05, 0.03, 0.04, 0.02, 0.05, 0.03, 0.04, 0.02,
               0.04, 0.03, 0.05, 0.02, 0.04, 0.03, 0.05, 0.03, 0.04, 0.06,
               0.03, 0.08, 0.02, 0.05, 0.03, 0.04, 0.03, 0.05, 0.02, 0.04,
               0.03, 0.05, 0.08, 0.03, 0.06, 0.03, 0.04, 0.02, 0.05, 0.03,
               0.04, 0.08, 0.09, 0.04, 0.03, 0.05, 0.02, 0.04, 0.03, 0.05,
               0.03, 0.04, 0.06, 0.03, 0.05, 0.02, 0.04, 0.03, 0.05, 0.03]


fig = plt.figure(figsize=(W / 100, H / 100), dpi=100)


def px_axes(x0, y0, x1, y1):
    return fig.add_axes([x0 / W, 1 - y1 / H, (x1 - x0) / W, (y1 - y0) / H])


def style(ax, xlim, ylim, yticks, xticks=None, xlabels=True, ylabel='', ylfs=6.5):
    ax.set_xlim(*xlim)
    ax.set_ylim(*ylim)
    ax.set_yticks(yticks)
    if xticks is not None:
        ax.set_xticks(xticks)
    ax.tick_params(labelsize=6.5, length=2.5, width=0.6, pad=1.5, labelbottom=xlabels)
    for s in ax.spines.values():
        s.set_color('#555555')
        s.set_linewidth(1.1)
    if ylabel:
        ax.set_ylabel(ylabel, fontsize=ylfs, labelpad=2)


def span(ax, s):
    ax.axvspan(s[0], s[1], color=SPAN, alpha=0.75, lw=0, zorder=0)


def under_text(xc, y1, name):
    fig.text(xc / W, 1 - (y1 + 19) / H, 'Timestamps', ha='center', va='center', fontsize=6.5)
    fig.text(xc / W, 1 - (y1 + 30) / H, name, ha='center', va='center', fontsize=7)


# ---------- top row ----------
top_cols = [(30, 250), (282, 502), (532, 752), (786, 1006)]

# a1
x0, x1 = top_cols[0]
ax = px_axes(x0, 70, x1, 122)
span(ax, a1_span)
ax.plot(a1_obs[:, 0], a1_obs[:, 1], color=BLUE, lw=1.0)
style(ax, (1426, 1718), (-0.09, 1.09), [0, 0.5, 1.0], range(1450, 1701, 50), False, 'Value')
ax = px_axes(x0, 132, x1, 184)
span(ax, a1_span)
ax.plot(a1_without[:, 0], a1_without[:, 1], color=TAN_LIGHT, lw=1.0)
ax.plot(a1_with[:, 0], a1_with[:, 1], color=RED, lw=1.0)
style(ax, (1426, 1718), (-0.09, 1.1), [0, 0.5, 1.0], range(1450, 1701, 50), True, 'Classification Score', 6)
under_text((x0 + x1) / 2, 184, 'KDD21 008')

# a2
x0, x1 = top_cols[1]
ax = px_axes(x0, 70, x1, 122)
span(ax, a2_span)
ax.plot(a2_obs[:, 0], a2_obs[:, 1], color=BLUE, lw=1.0)
style(ax, (2171, 3452), (-0.09, 1.09), [0, 0.5, 1.0], range(2200, 3401, 200), False, 'Value')
ax = px_axes(x0, 132, x1, 184)
span(ax, a2_span)
ax.plot(a2_without[:, 0], a2_without[:, 1], color=TAN_LIGHT, lw=1.0)
ax.plot(a2_with[:, 0], a2_with[:, 1], color=RED, lw=1.0)
style(ax, (2171, 3452), (-0.1, 0.675), [0, 0.2, 0.4, 0.6], range(2200, 3401, 200), True, 'Classification Score', 6)
under_text((x0 + x1) / 2, 184, 'KDD21 025')

# b1
x0, x1 = top_cols[2]
ax = px_axes(x0, 70, x1, 122)
span(ax, b1_span)
ax.plot(b1_obs[:, 0], b1_obs[:, 1], color=BLUE, lw=1.0)
style(ax, (46, 1903), (-0.09, 1.09), [0, 0.5, 1.0], range(200, 1801, 200), False, 'Value')
ax = px_axes(x0, 132, x1, 184)
span(ax, b1_span)
ax.plot(b1_recon[:, 0], b1_recon[:, 1], color=GOLD, lw=1.0)
ax.plot(b1_cls[:, 0], b1_cls[:, 1], color=TEAL, lw=1.0)
style(ax, (46, 1903), (-0.09, 1.1), [0, 0.5, 1.0], range(200, 1801, 200), True, 'Anomaly Score')
under_text((x0 + x1) / 2, 184, 'KDD21 021')

# b2
x0, x1 = top_cols[3]
ax = px_axes(x0, 70, x1, 122)
span(ax, b2_span)
ax.plot(b2_obs[:, 0], b2_obs[:, 1], color=BLUE, lw=1.0)
style(ax, (9053, 11052), (-0.09, 1.09), [0, 0.5, 1.0], range(9250, 11001, 250), False, 'Value')
ax = px_axes(x0, 132, x1, 184)
span(ax, b2_span)
ax.plot(np.linspace(b2_recon_x0, b2_recon_x1, len(b2_recon)), b2_recon, color=GOLD, lw=1.0,
        drawstyle='steps-mid')
ax.plot(b2_cls[:, 0], b2_cls[:, 1], color=TEAL, lw=1.0)
style(ax, (9053, 11052), (-0.09, 1.1), [0, 0.5, 1.0], range(9250, 11001, 250), True, 'Anomaly Score')
under_text((x0 + x1) / 2, 184, 'KDD21 057')

fig.text(255 / W, 1 - 225 / H, '(a) Visualization of frequency features to aid in detecting anomalies',
         ha='center', va='center', fontsize=8.5)
fig.text(767 / W, 1 - 225 / H,
         '(b) Visualization of detection results from the classification and reconstruction modules',
         ha='center', va='center', fontsize=8.5)

# ---------- bottom row ----------
bot_cols = [(30, 250), (282, 501), (533, 753), (785, 1006)]


def recon_panel(col, xs, obs, ours, other, other_color, strip, xlim, ylim, yline, sp, xticks,
                err_x, err_ours, err_other, err_ylim, err_yticks, name):
    x0, x1 = col
    ax = px_axes(x0, 254, x1, 323)
    span(ax, sp)
    ax.plot(xs, obs, color=BLUE, lw=1.0, zorder=2)
    ax.plot(xs, ours, color=RED, lw=0.9, ls='-.', zorder=3)
    ax.plot(xs, other, color=other_color, lw=0.9, ls='--', zorder=3)
    ax.imshow(np.array(strip)[None, :], extent=[xlim[0], xlim[1], ylim[0], yline], aspect='auto',
              cmap='Greys', vmin=0, vmax=1, interpolation='bicubic', zorder=4)
    ax.axhline(yline, color='black', lw=1.0, zorder=5)
    style(ax, xlim, ylim, [0, 0.5, 1.0], xticks, False, 'Reconstruction Value', ylfs=4.3)
    ax.tick_params(axis='x', length=0)
    ax = px_axes(x0, 326, x1, 388)
    span(ax, sp)
    ax.plot(err_x, err_other, color=RAND, lw=1.0)
    ax.plot(err_x, err_ours, color=COAD, lw=1.0)
    style(ax, xlim, err_ylim, err_yticks, xticks, True, 'Reconstruction Error', ylfs=4.3)
    under_text((x0 + x1) / 2, 388, name)


recon_panel(bot_cols[0], c1_x, c1_obs, c1_coad, c1_rand, RAND_DASH, c1_strip,
            (667, 1405), (-0.25, 1.32), -0.083, c1_span, range(700, 1401, 100),
            np.linspace(667, 1405, len(c1_err_coad)), c1_err_coad, c1_err_rand,
            (-0.034, 0.503), [0, 0.2, 0.4], 'KDD21 012')

c2_x = np.linspace(10977, 11988, len(c2_obs))
recon_panel(bot_cols[1], c2_x, c2_obs, c2_coad, c2_rand, RAND_DASH, c2_strip,
            (10977, 11988), (-0.24, 1.10), -0.098, c2_span, range(11000, 11801, 200),
            np.linspace(10977, 11988, len(c2_err_coad)), c2_err_coad, c2_err_rand,
            (-0.035, 0.51), [0, 0.2, 0.4], 'KDD21 040')

d1_x = np.linspace(2266, 3745, len(d1_obs))
recon_panel(bot_cols[2], d1_x, d1_obs, d1_coad, d1_grat, RAND_DASH, d1_strip,
            (2266, 3745), (-0.27, 1.32), -0.10, d1_span, range(2400, 3601, 200),
            np.linspace(2266, 3745, len(d1_err_coad)), d1_err_coad, d1_err_grat,
            (-0.04, 0.68), [0, 0.2, 0.4, 0.6], 'KDD21 004')

recon_panel(bot_cols[3], d2_x, d2_obs, d2_coad, d2_grat, RAND_DASH, d2_strip,
            (154, 2263), (-0.24, 1.11), -0.098, d2_span, range(250, 2001, 250),
            np.linspace(154, 2263, len(d2_err_coad)), d2_err_coad, d2_err_grat,
            (-0.024, 0.357), [0, 0.1, 0.2, 0.3], 'KDD21 019')

fig.text(255 / W, 1 - 427 / H, '(c) Visualization comparison between CoAD and the random masking method',
         ha='center', va='center', fontsize=8.5)
fig.text(767 / W, 1 - 427 / H, '(d) Visualization comparison between CoAD and the grating masking method',
         ha='center', va='center', fontsize=8.5)

# ---------- legends ----------
def legend(xc, yc, handles, labels):
    fig.legend(handles, labels, loc='center', bbox_to_anchor=(xc / W, 1 - yc / H), ncol=len(labels),
               fontsize=6.8, frameon=True, fancybox=False, edgecolor='#cccccc', handlelength=1.5,
               columnspacing=1.6, handletextpad=0.7, borderpad=0.35)


legend(254, 53.5,
       [Line2D([], [], color=BLUE, lw=1), Line2D([], [], color=TAN_LIGHT, lw=1), Line2D([], [], color=RED, lw=1)],
       ['Observation', 'Classification Score w/o Freq', 'Classification Score with Freq'])
legend(761, 53.5,
       [Line2D([], [], color=BLUE, lw=1), Line2D([], [], color=GOLD, lw=1), Line2D([], [], color=TEAL, lw=1)],
       ['Observation', 'Reconstruction Anomaly Score', 'Classification Anomaly Score'])
legend(255, 242,
       [Line2D([], [], color=BLUE, lw=1), Line2D([], [], color=RED, lw=1, ls='-.'),
        Line2D([], [], color=RAND_DASH, lw=1, ls='--'), Line2D([], [], color=COAD, lw=1),
        Line2D([], [], color=RAND, lw=1)],
       ['Observation', 'CoAD(ours)', 'Random', 'CoAD(ours)', 'Random'])
legend(755, 242,
       [Line2D([], [], color=BLUE, lw=1), Line2D([], [], color=RED, lw=1, ls='-.'),
        Line2D([], [], color=RAND_DASH, lw=1, ls='--'), Line2D([], [], color=COAD, lw=1),
        Line2D([], [], color=RAND, lw=1)],
       ['Observation', 'CoAD(ours)', 'Grating', 'CoAD(ours)', 'Grating'])

# ---------- header ----------
fig.text(8 / W, 1 - 11 / H, 'KDD 2026, August 9\u201313, 2026, Jeju Island, Republic of Korea.',
         ha='left', va='center', fontsize=8.5, fontstretch='condensed')
fig.text(1012 / W, 1 - 11 / H, 'Qideng Tang et al.', ha='right', va='center', fontsize=8.5,
         fontstretch='condensed')

fig.savefig('out.png', dpi=100)
